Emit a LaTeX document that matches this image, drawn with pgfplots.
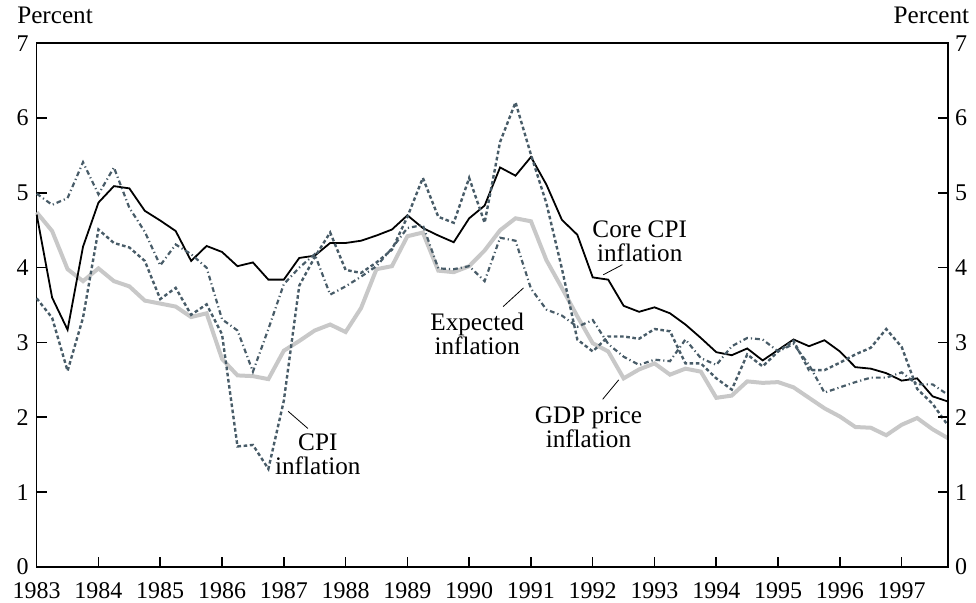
\documentclass[border=0pt]{standalone}
\usepackage{fontspec}
\setmainfont{Liberation Serif}
\usepackage{pgfplots}
\pgfplotsset{compat=1.18}
\usepackage{pgfplotstable}
\definecolor{slate}{RGB}{72,92,104}
\definecolor{lgray}{RGB}{200,200,200}

\pgfplotstableread{
x core gdp cpi exp
1983.00 4.71 4.74 3.59 4.99
1983.25 3.60 4.49 3.33 4.84
1983.50 3.17 3.98 2.62 4.93
1983.75 4.28 3.82 3.33 5.41
1984.00 4.87 3.99 4.51 4.98
1984.25 5.09 3.82 4.33 5.34
1984.50 5.06 3.75 4.27 4.80
1984.75 4.76 3.56 4.09 4.48
1985.00 4.63 3.52 3.58 4.03
1985.25 4.49 3.48 3.73 4.31
1985.50 4.09 3.34 3.37 4.18
1985.75 4.29 3.39 3.51 4.00
1986.00 4.21 2.78 3.11 3.31
1986.25 4.02 2.56 1.61 3.16
1986.50 4.07 2.55 1.63 2.61
1986.75 3.84 2.51 1.31 3.18
1987.00 3.84 2.89 2.22 3.78
1987.25 4.13 3.02 3.76 4.00
1987.50 4.16 3.16 4.14 4.18
1987.75 4.33 3.24 4.47 3.64
1988.00 4.33 3.14 3.97 3.75
1988.25 4.36 3.46 3.93 3.88
1988.50 4.43 3.98 4.07 4.02
1988.75 4.51 4.02 4.24 4.26
1989.00 4.70 4.42 4.68 4.53
1989.25 4.53 4.47 5.20 4.57
1989.50 4.43 3.96 4.68 3.99
1989.75 4.34 3.94 4.60 3.98
1990.00 4.66 4.02 5.20 4.02
1990.25 4.83 4.23 4.60 3.82
1990.50 5.34 4.50 5.68 4.40
1990.75 5.23 4.66 6.21 4.36
1991.00 5.48 4.62 5.51 3.72
1991.25 5.11 4.10 4.86 3.44
1991.50 4.64 3.73 3.99 3.36
1991.75 4.44 3.35 3.04 3.21
1992.00 3.87 2.99 2.88 3.30
1992.25 3.84 2.88 3.08 2.98
1992.50 3.49 2.52 3.08 2.81
1992.75 3.41 2.64 3.05 2.70
1993.00 3.47 2.72 3.18 2.77
1993.25 3.39 2.57 3.15 2.75
1993.50 3.24 2.65 2.72 3.04
1993.75 3.06 2.61 2.72 2.79
1994.00 2.87 2.26 2.52 2.70
1994.25 2.83 2.29 2.37 2.95
1994.50 2.92 2.48 2.84 3.06
1994.75 2.76 2.46 2.68 3.04
1995.00 2.90 2.47 2.88 2.88
1995.25 3.04 2.40 3.02 2.98
1995.50 2.95 2.26 2.63 2.70
1995.75 3.03 2.12 2.63 2.33
1996.00 2.88 2.01 2.73 2.40
1996.25 2.67 1.87 2.84 2.47
1996.50 2.65 1.86 2.93 2.53
1996.75 2.59 1.76 3.18 2.53
1997.00 2.49 1.90 2.94 2.60
1997.25 2.52 1.99 2.38 2.44
1997.50 2.28 1.84 2.18 2.44
1997.75 2.21 1.72 1.89 2.30
}\data

\begin{document}
\begin{tikzpicture}[font=\fontsize{12.6}{12}\selectfont]
\begin{axis}[name=ax, scale only axis, width=456pt, height=262pt,
  xmin=1983, xmax=1997.75, ymin=0, ymax=7,
  xtick={1983,...,1997}, ytick={0,...,7},
  xtick pos=bottom, ytick pos=both, tick align=inside,
  major tick length=5pt,
  /pgf/number format/1000 sep={},
  /pgf/number format/assume math mode=true,
  ticklabel style={font=\fontsize{12}{12}\selectfont},
  xticklabel style={yshift=-4.5pt},
  yticklabel style={xshift=-0.5pt},
  axis line style={line width=0.8pt},
  tick style={line width=0.8pt, black},
  clip=false]
\addplot[lgray, line width=2pt] table[x=x,y=gdp]{\data};
\addplot[black, line width=0.9pt] table[x=x,y=core]{\data};
\addplot[slate, line width=1.2pt, dash pattern=on 1.8pt off 1.3pt] table[x=x,y=cpi]{\data};
\addplot[slate, line width=1.1pt, dash pattern=on 2.4pt off 1.5pt on 0.6pt off 1.5pt] table[x=x,y=exp]{\data};

\node[anchor=west] at (rel axis cs:-0.029,1.054) {Percent};
\node[anchor=east] at (rel axis cs:1.031,1.054) {Percent};

\node[align=center] at (axis cs:1992.76,4.35) {Core CPI\\inflation};
\draw[black, line width=0.4pt] (axis cs:1992.17,3.905) -- (axis cs:1992.48,4.04);
\node[align=center] at (axis cs:1990.13,3.12) {Expected\\inflation};
\draw[black, line width=0.4pt] (axis cs:1990.55,3.48) -- (axis cs:1990.88,3.73);
\node[align=center] at (axis cs:1987.55,1.50) {CPI\\inflation};
\draw[black, line width=0.4pt] (axis cs:1987.07,2.08) -- (axis cs:1987.39,1.85);
\node[align=center] at (axis cs:1991.93,1.86) {GDP price\\inflation};
\draw[black, line width=0.4pt] (axis cs:1992.16,2.24) -- (axis cs:1992.42,2.50);
\end{axis}
\begin{axis}[scale only axis, width=456pt, height=262pt,
  at={(ax.south west)}, anchor=south west,
  xmin=1983, xmax=1997.75, ymin=0, ymax=7,
  axis x line=none, axis y line*=right,
  ytick={0,...,7}, tick align=inside, major tick length=5pt,
  /pgf/number format/assume math mode=true,
  ticklabel style={font=\fontsize{12}{12}\selectfont},
  axis line style={line width=0.8pt},
  tick style={line width=0.8pt, black}]
\end{axis}
\pgfresetboundingbox
\path[use as bounding box] ([xshift=-18.35pt,yshift=-17.85pt]ax.south west) rectangle ([xshift=14pt,yshift=21.65pt]ax.north east);
\end{tikzpicture}
\end{document}
